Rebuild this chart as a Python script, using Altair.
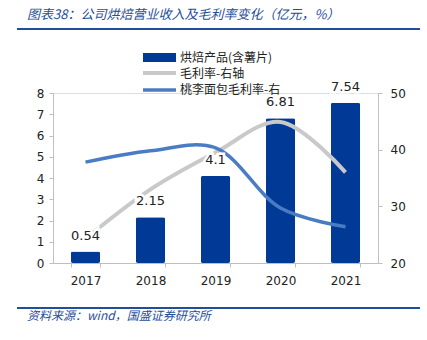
import altair as alt
import pandas as pd

years = ["2017", "2018", "2019", "2020", "2021"]
revenue = [0.54, 2.15, 4.1, 6.81, 7.54]
revenue_labels = ["0.54", "2.15", "4.1", "6.81", "7.54"]
gm_company = [24.3, 33.0, 39.5, 44.9, 36.0]
gm_taoli = [37.8, 39.8, 40.3, 29.7, 26.4]

series_bar = "烘焙产品(含薯片)"
series_gm = "毛利率-右轴"
series_taoli = "桃李面包毛利率-右"

title_text = "图表38：公司烘焙营业收入及毛利率变化（亿元，%）"
source_text = "资料来源：wind，国盛证券研究所"

BAR = "#003A96"
GRAY = "#C9C9C9"
LBLUE = "#4A7CC4"
TBLUE = "#1F4E9A"
CJK = "Noto Sans CJK SC"
NUM = "DejaVu Sans"

bars_df = pd.DataFrame({"year": years, "rev": revenue, "label": revenue_labels})
lines_df = pd.DataFrame({
    "year": years * 2,
    "gm": gm_company + gm_taoli,
    "series": [series_gm] * 5 + [series_taoli] * 5,
})

xscale = alt.Scale(paddingInner=0.55, paddingOuter=0.275)
xenc = alt.X("year:N", scale=xscale, sort=years,
             axis=alt.Axis(title=None, labelAngle=0, labelFont=NUM, labelFontSize=12,
                           labelColor="#222", domainColor="#BFBFBF", tickColor="#BFBFBF",
                           tickBand="extent", tickSize=4, labelPadding=8))

bars = alt.Chart(bars_df).mark_bar(color=BAR, cornerRadius=2).encode(
    x=xenc,
    y=alt.Y("rev:Q", scale=alt.Scale(domain=[0, 8]),
            axis=alt.Axis(title=None, values=list(range(0, 9)), labelFont=NUM, labelFontSize=12,
                          labelColor="#222", domainColor="#BFBFBF", tickColor="#BFBFBF",
                          tickSize=4, labelPadding=5, grid=False)),
)

lines = alt.Chart(lines_df).mark_line(interpolate="catmull-rom").encode(
    x=alt.X("year:N", sort=years),
    y=alt.Y("gm:Q", scale=alt.Scale(domain=[20, 50]),
            axis=alt.Axis(title=None, orient="right", values=[20, 30, 40, 50], labelFont=NUM,
                          labelFontSize=12, labelColor="#222", domainColor="#BFBFBF",
                          tickColor="#BFBFBF", tickSize=4, labelPadding=8, grid=False)),
    color=alt.Color("series:N", scale=alt.Scale(domain=[series_gm, series_taoli], range=[GRAY, LBLUE]),
                    legend=None),
    strokeWidth=alt.StrokeWidth("series:N", scale=alt.Scale(domain=[series_gm, series_taoli], range=[4, 3.5]),
                                legend=None),
    order=alt.Order("series:N", sort="ascending"),
)

halo = alt.Chart(bars_df).mark_text(font=NUM, fontSize=13, color="white", stroke="white", strokeWidth=5,
                                    baseline="bottom", dy=-9).encode(
    x=alt.X("year:N", sort=years),
    y=alt.Y("rev:Q", scale=alt.Scale(domain=[0, 8]), axis=None), text="label:N")
labels = alt.Chart(bars_df).mark_text(font=NUM, fontSize=13, color="#222", baseline="bottom", dy=-9).encode(
    x=alt.X("year:N", sort=years),
    y=alt.Y("rev:Q", scale=alt.Scale(domain=[0, 8]), axis=None), text="label:N")

one = alt.Data(values=[{}])

def txt(s, x, y, font, size, color, italic=False):
    return alt.Chart(one).mark_text(text=s, font=font, fontSize=size, color=color, align="left",
                                    baseline="middle", fontStyle="italic" if italic else "normal").encode(
        x=alt.value(x), y=alt.value(y))

def hrule(x1, x2, y, color, w):
    return alt.Chart(one).mark_rule(color=color, strokeWidth=w).encode(
        x=alt.value(x1), x2=alt.value(x2), y=alt.value(y))

deco = [
    txt(title_text, -26, -78, CJK, 13, TBLUE, True),
    hrule(-36, 367, -64, TBLUE, 2),
    hrule(-36, 367, 215, TBLUE, 2),
    txt(source_text, -26, 223, CJK, 12, TBLUE, True),
    alt.Chart(one).mark_rect(color=BAR).encode(x=alt.value(90), x2=alt.value(123), y=alt.value(-40), y2=alt.value(-31)),
    hrule(90, 123, -20, GRAY, 4),
    hrule(90, 123, -3, LBLUE, 3.5),
    txt(series_bar, 127, -35, CJK, 12, "#222"),
    txt(series_gm, 127, -19, CJK, 12, "#222"),
    txt(series_taoli, 127, -3, CJK, 12, "#222"),
]

chart = alt.layer(bars, lines, halo, labels, *deco).resolve_scale(y="independent").properties(
    width=325, height=170,
    padding={"left": 53, "top": 93, "right": 49, "bottom": 77},
    autosize=alt.AutoSizeParams(type="none"),
).configure_view(stroke=None).configure(background="white")

chart.save("out.html", embed_options={"renderer": "svg", "actions": False})
